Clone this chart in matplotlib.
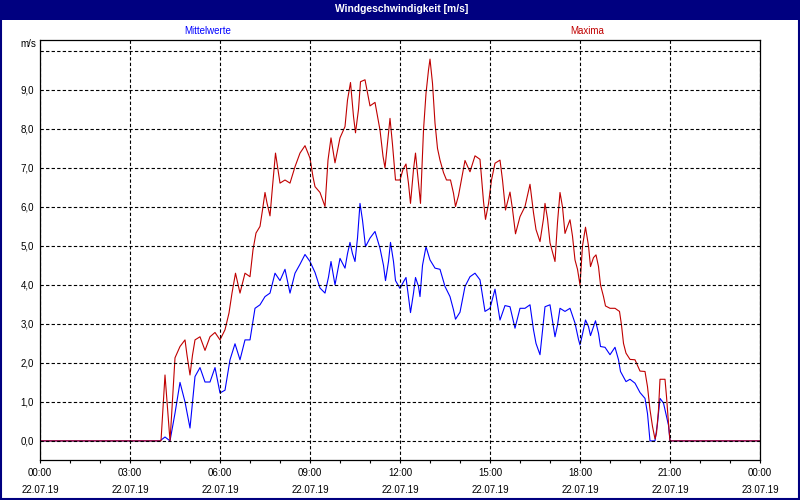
import matplotlib
matplotlib.use("Agg")
import matplotlib.pyplot as plt
from matplotlib.patches import Rectangle
from matplotlib.ticker import FixedLocator, MultipleLocator

# ---------------- data ----------------
title = "Windgeschwindigkeit [m/s]"
unit_label = "m/s"
mean_label = "Mittelwerte"
max_label = "Maxima"

# time in minutes since 22.07.19 00:00
max_minutes = [0, 240, 242, 250, 260, 263, 270, 280, 290, 294, 300, 305, 310, 320, 330, 340, 350, 360,
               370, 378, 384, 391, 400, 410, 420, 426, 432, 440, 445, 450, 454, 460, 465, 471, 480,
               490, 500, 510, 520, 530, 540, 546, 550, 560, 570, 576, 582, 590, 600, 610, 615, 621,
               627, 631, 637, 641, 650, 660, 670, 680, 686, 690, 694, 700, 705, 711, 720, 726, 732,
               737, 741, 747, 751, 757, 761, 767, 772, 777, 780, 785, 790, 795, 800, 807, 813, 821,
               827, 831, 837, 840, 850, 860, 870, 880, 887, 891, 897, 903, 910, 920, 925, 931, 940,
               945, 951, 960, 970, 980, 987, 992, 1000, 1007, 1010, 1015, 1020, 1030, 1035, 1040,
               1045, 1050, 1055, 1060, 1065, 1070, 1075, 1080, 1085, 1091, 1097, 1101, 1107, 1112,
               1117, 1121, 1127, 1131, 1140, 1150, 1159, 1163, 1167, 1172, 1180, 1190, 1200, 1210,
               1215, 1220, 1225, 1230, 1233, 1237, 1240, 1250, 1253, 1257, 1260, 1440]
max_values = [0, 0, 0, 1.69, 0, 0.62, 2.13, 2.42, 2.59, 2.2, 1.69, 2.2, 2.59, 2.67, 2.32, 2.67, 2.78, 2.59,
              2.85, 3.28, 3.79, 4.3, 3.79, 4.3, 4.21, 4.9, 5.33, 5.5, 5.92, 6.37, 6.1, 5.77, 6.52, 7.38, 6.61,
              6.69, 6.61, 7.03, 7.38, 7.57, 7.25, 6.77, 6.52, 6.37, 6.01, 7.2, 7.77, 7.13, 7.77, 8.06, 8.74, 9.19,
              8.32, 7.9, 8.5, 9.21, 9.26, 8.59, 8.68, 7.97, 7.3, 7.0, 7.5, 8.27, 7.6, 6.69, 6.69, 6.96, 7.1,
              6.6, 6.09, 6.96, 7.38, 6.6, 6.09, 7.97, 8.91, 9.51, 9.79, 9.17, 8.15, 7.5, 7.2, 6.88, 6.69, 6.69,
              6.35, 6.01, 6.29, 6.5, 7.19, 6.9, 7.31, 7.22, 6.14, 5.68, 6.08, 6.69, 7.12, 7.2, 6.69, 5.92, 6.38,
              5.94, 5.31, 5.75, 6.01, 6.58, 5.85, 5.42, 5.11, 5.7, 6.09, 5.7, 5.08, 4.6, 5.6, 6.37,
              6.0, 5.32, 5.5, 5.67, 5.25, 4.64, 4.4, 4.0, 5.0, 5.48, 5.0, 4.47, 4.7, 4.77,
              4.47, 4.0, 3.7, 3.46, 3.4, 3.4, 3.32, 2.97, 2.5, 2.25, 2.09, 2.08, 1.79, 1.78,
              1.39, 0.8, 0.37, 0.05, 0.2, 0.8, 1.58, 1.58, 1.14, 0.45, 0, 0]

mean_minutes = [0, 240, 250, 260, 270, 280, 290, 300, 310, 320, 330, 340, 350, 360, 370, 380, 390, 400,
                410, 420, 430, 440, 450, 460, 470, 480, 490, 500, 510, 520, 530, 540, 550, 560, 570, 577,
                582, 590, 600, 610, 615, 620, 625, 630, 635, 640, 645, 651, 660, 670, 680, 687, 691, 697,
                701, 707, 711, 720, 727, 732, 737, 741, 747, 751, 757, 760, 765, 772, 780, 790, 800, 810,
                820, 827, 831, 840, 850, 860, 870, 880, 890, 900, 910, 920, 930, 940, 950, 960, 970, 980,
                987, 992, 1000, 1010, 1020, 1030, 1035, 1040, 1050, 1060, 1070, 1077, 1080, 1085, 1091,
                1097, 1101, 1107, 1111, 1117, 1121, 1130, 1140, 1150, 1157, 1161, 1172, 1180, 1190, 1200,
                1210, 1215, 1220, 1230, 1235, 1240, 1247, 1253, 1257, 1260, 1440]
mean_values = [0, 0, 0.1, 0, 0.71, 1.5, 1.0, 0.33, 1.65, 1.88, 1.51, 1.51, 1.88, 1.23, 1.3, 2.08, 2.49, 2.08,
               2.59, 2.59, 3.4, 3.49, 3.7, 3.79, 4.3, 4.11, 4.4, 3.79, 4.3, 4.53, 4.78, 4.6, 4.32, 3.92, 3.79, 4.2,
               4.6, 4.0, 4.68, 4.43, 4.8, 5.09, 4.8, 4.6, 5.2, 6.09, 5.66, 4.98, 5.2, 5.37, 4.94, 4.5, 4.11, 4.6,
               5.09, 4.6, 4.11, 3.91, 4.08, 4.19, 3.7, 3.29, 3.79, 4.19, 3.96, 3.7, 4.5, 4.98, 4.64, 4.43, 4.4, 3.96,
               3.7, 3.36, 3.12, 3.3, 3.96, 4.21, 4.3, 4.13, 3.32, 3.4, 3.89, 3.1, 3.47, 3.44, 2.89, 3.4, 3.4, 3.49,
               2.85, 2.5, 2.21, 3.44, 3.49, 2.67, 2.97, 3.4, 3.32, 3.4, 3.02, 2.6, 2.46, 2.74, 3.1,
               2.93, 2.7, 2.93, 3.08, 2.76, 2.42, 2.4, 2.21, 2.4, 2.08, 1.78, 1.52, 1.58, 1.48, 1.24,
               1.09, 0.7, 0.0, 0.0, 0.45, 1.09, 0.97, 0.63, 0.4, 0, 0]

x_tick_times = ["00:00", "03:00", "06:00", "09:00", "12:00", "15:00", "18:00", "21:00", "00:00"]
x_tick_dates = ["22.07.19"] * 8 + ["23.07.19"]
y_ticks = [0, 1, 2, 3, 4, 5, 6, 7, 8, 9, 10]
y_tick_labels = ["0,0", "1,0", "2,0", "3,0", "4,0", "5,0", "6,0", "7,0", "8,0", "9,0", ""]

# ---------------- style ----------------
NAVY = "#000080"
BLUE = "#0000ff"
RED = "#c00000"
FONT = "Liberation Sans"
plt.rcParams["font.family"] = [FONT, "DejaVu Sans"]
FS = 7.0

W, H = 800, 500
fig = plt.figure(figsize=(8, 5), dpi=100)
fig.patch.set_facecolor("white")

def fx(x):
    return x / W

def fy(y):
    return 1 - y / H

# title bar and outer frame
fig.patches.append(Rectangle((0, fy(20)), 1, 20 / H, transform=fig.transFigure,
                             facecolor=NAVY, edgecolor="none", zorder=0))
fig.patches.append(Rectangle((0.001, 0.002), 0.998, 0.997, transform=fig.transFigure,
                             facecolor="none", edgecolor=NAVY, lw=1.5, zorder=0))
fig.text(fx(402), fy(9.5), title, color="white", fontsize=7.4, fontweight="bold",
         ha="center", va="center")

ax = fig.add_axes([fx(40), fy(460), fx(760) - fx(40), (460 - 40) / H])
ax.set_facecolor("white")

lw = 0.8
ax.plot(mean_minutes, mean_values, color=BLUE, lw=lw, zorder=2)
ax.plot(max_minutes, max_values, color=RED, lw=lw, zorder=2.1)

ax.set_xlim(0, 1440)
ax.set_ylim(-0.49, 10.28)

ax.xaxis.set_major_locator(FixedLocator([i * 180 for i in range(len(x_tick_times))]))
ax.xaxis.set_minor_locator(MultipleLocator(60))
ax.set_xticklabels([f"{t}\n{d}" for t, d in zip(x_tick_times, x_tick_dates)])
ax.yaxis.set_major_locator(FixedLocator(y_ticks))
ax.set_yticklabels(y_tick_labels)

ax.tick_params(axis="x", which="both", direction="out", length=2.2, width=0.8, pad=3.8,
               labelsize=FS, colors="black")
ax.tick_params(axis="y", which="both", length=0, pad=4.5, labelsize=FS)
for lbl in ax.get_xticklabels():
    lbl.set_linespacing(1.85)

ax.grid(True, which="major", color="black", lw=0.8, linestyle=(0, (3, 2)), zorder=3)
ax.set_axisbelow(False)
for gl in ax.get_xgridlines() + ax.get_ygridlines():
    gl.set_zorder(3)

for sp in ax.spines.values():
    sp.set_color("black")
    sp.set_linewidth(0.9)
    sp.set_zorder(4)

fig.text(fx(36), fy(44), unit_label, fontsize=FS, ha="right", va="center")
fig.text(fx(208), fy(31), mean_label, fontsize=FS, color=BLUE, ha="center", va="center")
fig.text(fx(587), fy(31), max_label, fontsize=FS, color=RED, ha="center", va="center")

fig.savefig("out.png", dpi=100, facecolor="white")
